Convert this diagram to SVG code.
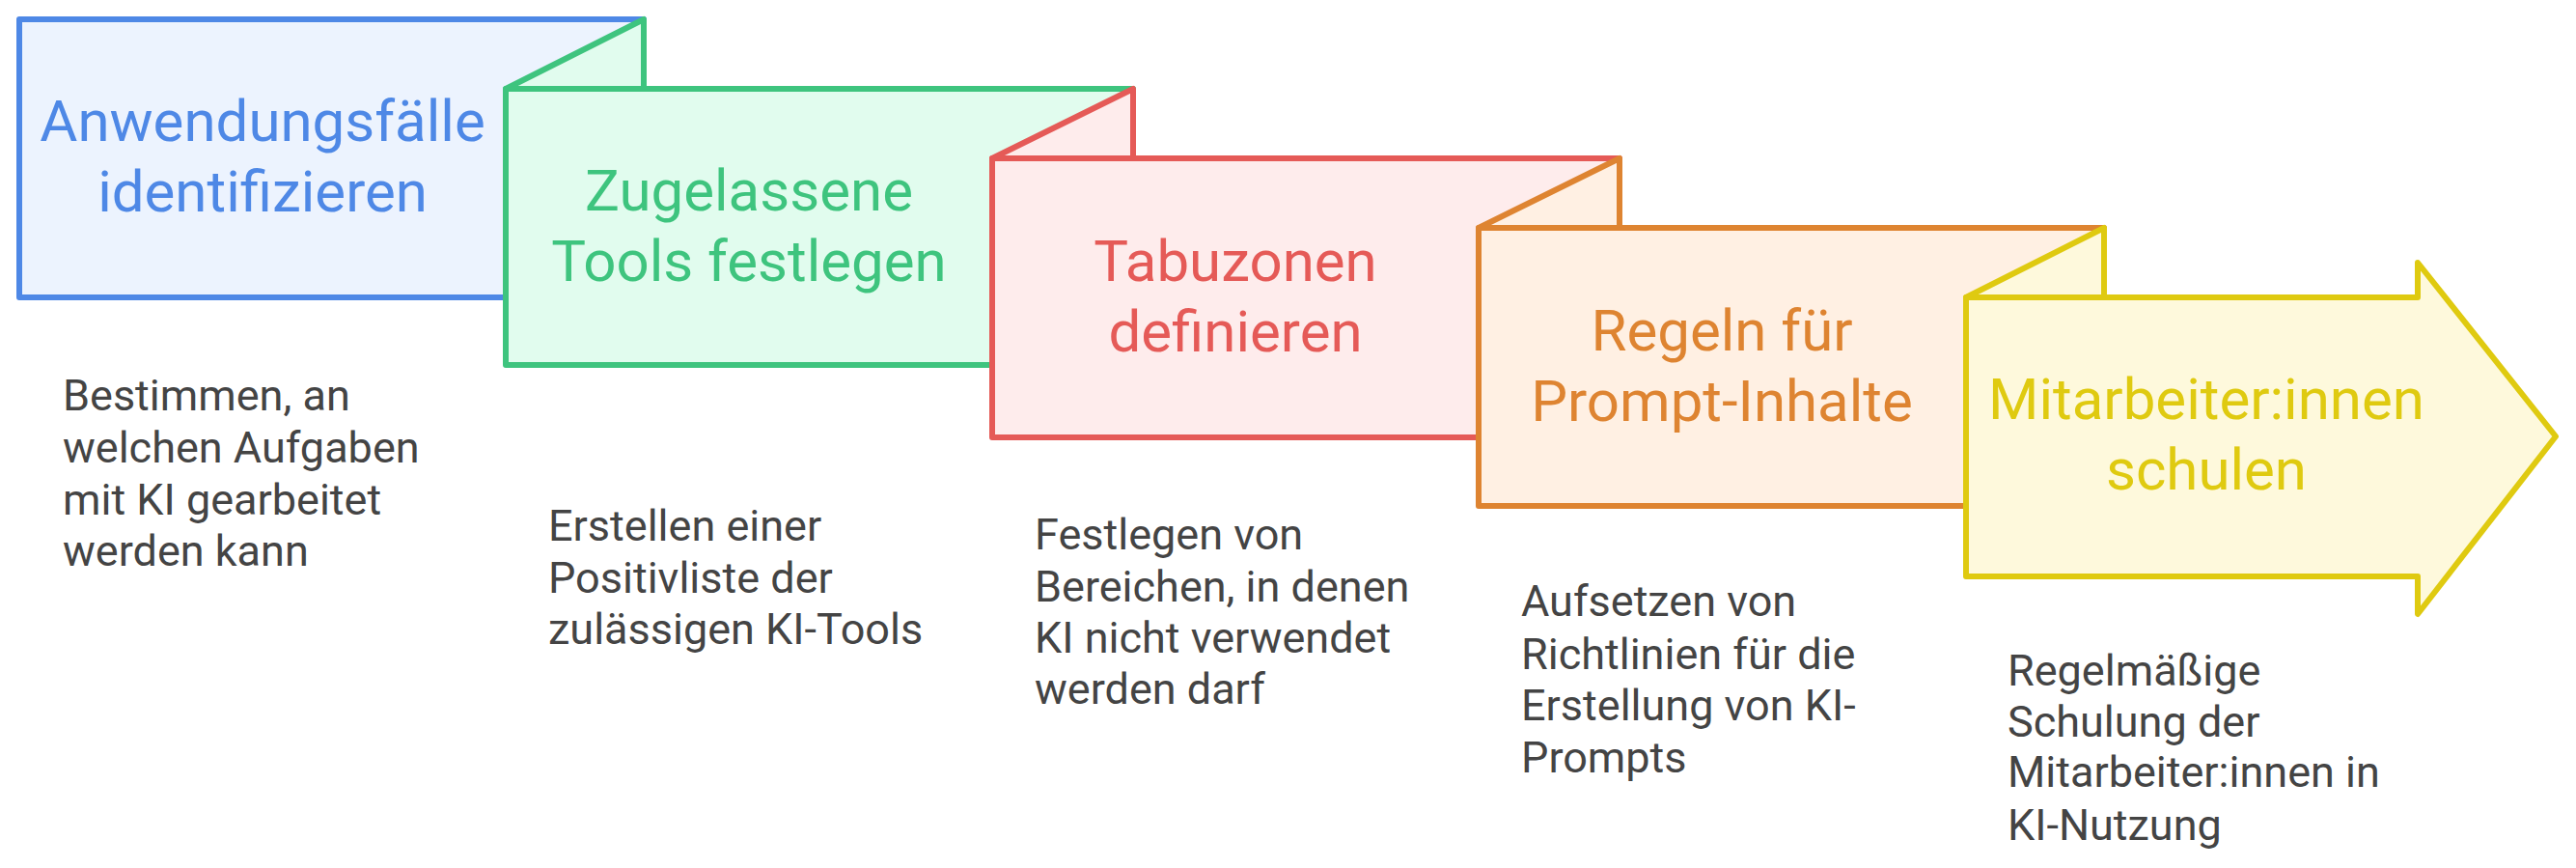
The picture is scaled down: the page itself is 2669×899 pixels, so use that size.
<svg xmlns="http://www.w3.org/2000/svg" width="2669" height="899" viewBox="0 0 2669 899">
<style>
.s{stroke-width:6;stroke-linejoin:round}
.t{font-family:Roboto,"Liberation Sans",sans-serif;font-size:60px;text-anchor:middle}
.d{font-family:Roboto,"Liberation Sans",sans-serif;font-size:45px;fill:#444}
</style>
<rect width="2669" height="899" fill="#fff"/>
<g id="n1">
<path class="s" d="M20,20H667V308H20Z" fill="#ecf3fe" stroke="#4e88e6"/>
<text class="t" fill="#4e88e6"><tspan x="272" y="146">Anwendungsfälle</tspan><tspan x="272" y="219">identifizieren</tspan></text>
<text class="d"><tspan x="65" y="425">Bestimmen, an</tspan><tspan x="65" y="479">welchen Aufgaben</tspan><tspan x="65" y="533">mit KI gearbeitet</tspan><tspan x="65" y="586">werden kann</tspan></text>
</g>
<g id="n2">
<path class="s" d="M524,92L667,20V92Z" fill="#e1fcee" stroke="#3ec47e"/>
<path class="s" d="M524,92H1174V378H524Z" fill="#e1fcee" stroke="#3ec47e"/>
<text class="t" fill="#3ec47e"><tspan x="776" y="218">Zugelassene</tspan><tspan x="776" y="291">Tools festlegen</tspan></text>
<text class="d"><tspan x="568" y="560">Erstellen einer</tspan><tspan x="568" y="614">Positivliste der</tspan><tspan x="568" y="667">zulässigen KI-Tools</tspan></text>
</g>
<g id="n3">
<path class="s" d="M1028,164L1174,92V164Z" fill="#feecec" stroke="#e55a57"/>
<path class="s" d="M1028,164H1678V453H1028Z" fill="#feecec" stroke="#e55a57"/>
<text class="t" fill="#e55a57"><tspan x="1280" y="291">Tabuzonen</tspan><tspan x="1280" y="364">definieren</tspan></text>
<text class="d"><tspan x="1072" y="569">Festlegen von</tspan><tspan x="1072" y="623">Bereichen, in denen</tspan><tspan x="1072" y="676">KI nicht verwendet</tspan><tspan x="1072" y="729">werden darf</tspan></text>
</g>
<g id="n4">
<path class="s" d="M1532,236L1678,164V236Z" fill="#fff0e3" stroke="#de8431"/>
<path class="s" d="M1532,236H2180V524H1532Z" fill="#fff0e3" stroke="#de8431"/>
<text class="t" fill="#de8431"><tspan x="1784" y="363">Regeln für</tspan><tspan x="1784" y="436">Prompt-Inhalte</tspan></text>
<text class="d"><tspan x="1576" y="638">Aufsetzen von</tspan><tspan x="1576" y="693">Richtlinien für die</tspan><tspan x="1576" y="746">Erstellung von KI-</tspan><tspan x="1576" y="800">Prompts</tspan></text>
</g>
<g id="n5">
<path class="s" d="M2037,308L2180,236V308Z" fill="#fef9dc" stroke="#dfca10"/>
<path class="s" d="M2037,308H2505V272L2648,452L2505,636V597H2037Z" fill="#fef9dc" stroke="#dfca10"/>
<text class="t" fill="#dfca10"><tspan x="2286" y="434">Mitarbeiter:innen</tspan><tspan x="2286" y="507">schulen</tspan></text>
<text class="d"><tspan x="2080" y="710">Regelmäßige</tspan><tspan x="2080" y="763">Schulung der</tspan><tspan x="2080" y="815">Mitarbeiter:innen in</tspan><tspan x="2080" y="870">KI-Nutzung</tspan></text>
</g>
<g id="connectors"/>
</svg>
